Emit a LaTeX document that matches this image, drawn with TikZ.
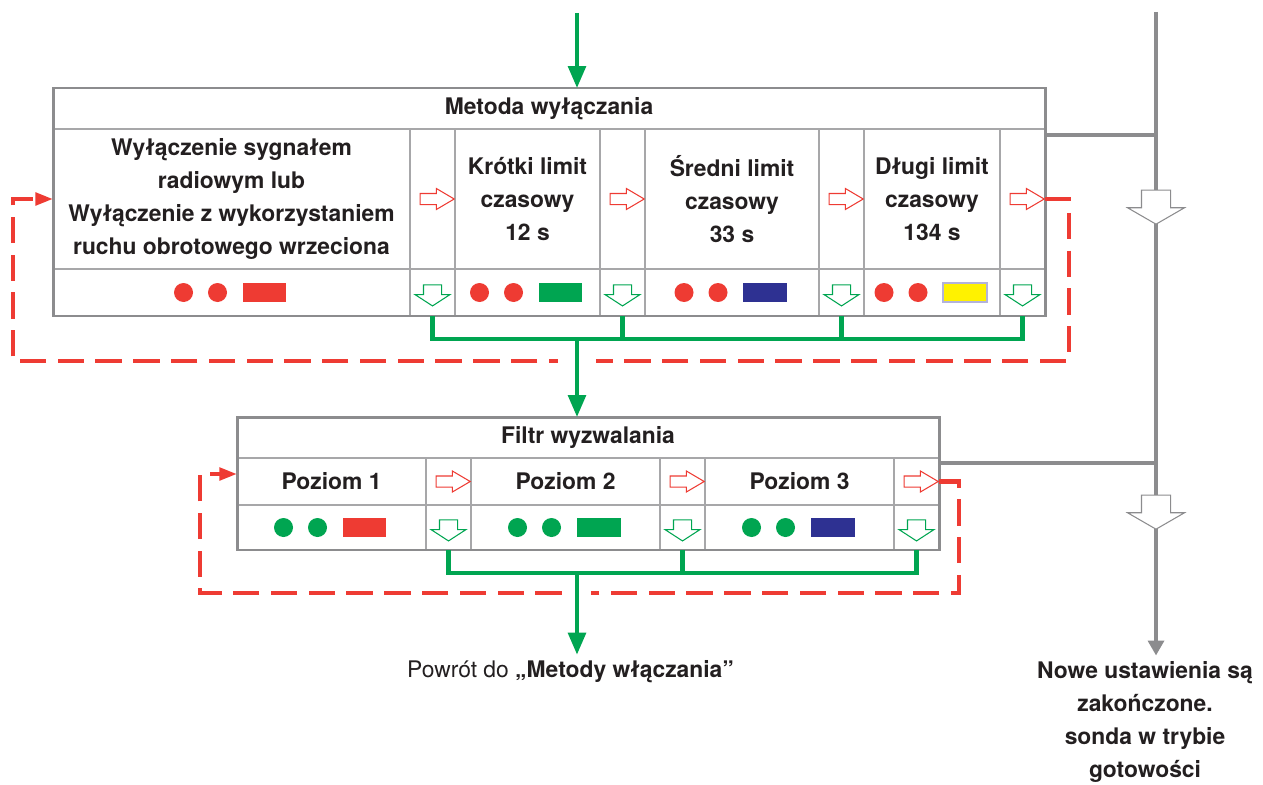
\documentclass[tikz,border=0pt]{standalone}
\usepackage{fontspec}
\setmainfont{TeX Gyre Heros}
\usetikzlibrary{arrows.meta, shapes.arrows, calc}
\definecolor{ink}{HTML}{231F20}
\definecolor{lred}{HTML}{EE3B33}
\definecolor{lgreen}{HTML}{00A551}
\definecolor{lblue}{HTML}{2E3192}
\definecolor{lyellow}{HTML}{FFF200}
\definecolor{framegray}{HTML}{8C8C8E}
\definecolor{cellgray}{HTML}{A7A7A9}
\definecolor{lilac}{HTML}{B3B3DB}

\begin{document}
\begin{tikzpicture}[x=0.02cm, y=-0.02cm,
    cell/.style={draw=cellgray, line width=1.1pt, inner sep=0pt, outer sep=0pt,
                 align=center, text=ink, font=\fontsize{13}{18.7}\selectfont\bfseries},
    titlerow/.style={cell, minimum height=0.82cm},
    textrow/.style={cell, minimum height=2.8cm},
    lamprow/.style={cell, minimum height=0.94cm},
    slim/.style={minimum width=0.9cm},
    boxframe/.style={draw=framegray, line width=1.7pt},
    dot/.style={circle, fill=#1, minimum size=0.38cm, inner sep=0pt},
    lamp/.style={fill=#1, minimum width=0.88cm, minimum height=0.38cm,
                 inner sep=0pt, line width=1.2pt},
    rarr/.style={single arrow, draw=lred, fill=white, line width=0.6pt,
                 inner xsep=0pt, inner ysep=0.1cm, minimum height=0.68cm,
                 single arrow head extend=0.1cm, single arrow tip angle=61},
    garr/.style={single arrow, draw=lgreen, fill=white, line width=0.6pt,
                 inner xsep=0pt, inner ysep=0.17cm, minimum height=0.42cm, rotate=-90,
                 single arrow head extend=0.17cm, single arrow tip angle=114},
    harr/.style={single arrow, draw=framegray, fill=white, line width=0.6pt,
                 inner xsep=0pt, inner ysep=0.28cm, minimum height=0.68cm, rotate=-90,
                 single arrow head extend=0.28cm, single arrow tip angle=120},
    gbus/.style={draw=lgreen, line width=2.3pt},
    gflow/.style={gbus, -{Triangle[length=12.5pt, width=10pt]}},
    gline/.style={draw=framegray, line width=2.3pt},
    grayflow/.style={gline, -{Triangle[length=8.5pt, width=9pt]}},
    rloop/.style={draw=lred, line width=2.3pt, dash pattern=on 15pt off 6.5pt,
                  -{Triangle[length=10pt, width=7pt]}},
    note/.style={text=ink, font=\fontsize{13}{18.7}\selectfont, align=center}
  ]
  \useasboundingbox (0,0) rectangle (1263,784);

  % switch-off method
  \node[titlerow, minimum width=19.84cm] (t1) at (549,108.5) {Metoda wyłączania};
  \node[textrow, minimum width=7.14cm] (c1) at (231.5,199)
    {Wyłączenie sygnałem\\radiowym lub\\Wyłączenie z wykorzystaniem\\ruchu obrotowego wrzeciona};
  \node[textrow, slim] (a1) at (432.5,199) {};
  \node[textrow, minimum width=2.9cm] (c2) at (527.5,199) {Krótki limit\\czasowy\\12 s};
  \node[textrow, slim] (a2) at (622.5,199) {};
  \node[textrow, minimum width=3.48cm] (c3) at (732,199) {Średni limit\\czasowy\\33 s};
  \node[textrow, slim] (a3) at (841.5,199) {};
  \node[textrow, minimum width=2.72cm] (c4) at (932,199) {Długi limit\\czasowy\\134 s};
  \node[textrow, slim] (a4) at (1022.5,199) {};
  \node[lamprow, minimum width=7.14cm] (c1b) at (231.5,292.5) {};
  \node[lamprow, slim] (a1b) at (432.5,292.5) {};
  \node[lamprow, minimum width=2.9cm] (c2b) at (527.5,292.5) {};
  \node[lamprow, slim] (a2b) at (622.5,292.5) {};
  \node[lamprow, minimum width=3.48cm] (c3b) at (732,292.5) {};
  \node[lamprow, slim] (a3b) at (841.5,292.5) {};
  \node[lamprow, minimum width=2.72cm] (c4b) at (932,292.5) {};
  \node[lamprow, slim] (a4b) at (1022.5,292.5) {};
  \draw[boxframe] (t1.north west) rectangle (a4b.south east);

  % trigger filter
  \node[titlerow, minimum width=14.04cm] (f0) at (588,437.5) {Filtr wyzwalania};
  \node[lamprow, minimum width=3.78cm] (p1) at (331.5,481.5) {Poziom 1};
  \node[lamprow, slim] (fa1) at (448.5,481.5) {};
  \node[lamprow, minimum width=3.78cm] (p2) at (565.5,481.5) {Poziom 2};
  \node[lamprow, slim] (fa2) at (682.5,481.5) {};
  \node[lamprow, minimum width=3.78cm] (p3) at (799.5,481.5) {Poziom 3};
  \node[lamprow, slim] (fa3) at (916.5,481.5) {};
  \node[cell, minimum height=0.9cm, minimum width=3.78cm] (p1b) at (331.5,527.5) {};
  \node[cell, minimum height=0.9cm, slim] (fa1b) at (448.5,527.5) {};
  \node[cell, minimum height=0.9cm, minimum width=3.78cm] (p2b) at (565.5,527.5) {};
  \node[cell, minimum height=0.9cm, slim] (fa2b) at (682.5,527.5) {};
  \node[cell, minimum height=0.9cm, minimum width=3.78cm] (p3b) at (799.5,527.5) {};
  \node[cell, minimum height=0.9cm, slim] (fa3b) at (916.5,527.5) {};
  \draw[boxframe] (f0.north west) rectangle (fa3b.south east);

  % lamps
  \foreach \cb/\dc/\lc/\lb in {c1b/lred/lred/none, c2b/lred/lgreen/none,
      c3b/lred/lblue/none, c4b/lred/lyellow/lilac, p1b/lgreen/lred/none,
      p2b/lgreen/lgreen/none, p3b/lgreen/lblue/none} {
    \node[dot=\dc] (\cb-d1) at ([xshift=-0.96cm]\cb.center) {};
    \node[dot=\dc] (\cb-d2) at ([xshift=-0.28cm]\cb.center) {};
    \node[lamp=\lc, draw=\lb] (\cb-l) at ([xshift=0.66cm]\cb.center) {};
  }

  % hollow arrows
  \foreach \a in {a1,a2,a3,a4,fa1,fa2,fa3}
    \node[rarr] (r\a) at (\a) {};
  \foreach \a in {a1b,a2b,a3b,a4b,fa1b,fa2b,fa3b}
    \node[garr] (g\a) at (\a) {};

  % texts below
  \node[note] (back) at (570.5,672) {Powrót do \textbf{„Metody włączania”}};
  \node[note, font=\fontsize{13}{18.7}\selectfont\bfseries] (done) at (1145,722)
    {Nowe ustawienia są\\zakończone.\\sonda w trybie\\gotowości};

  % red loops
  \coordinate (ret1) at (1069,361);
  \coordinate (ret1l) at (13,361);
  \draw[rloop] (a4.east) -| (ret1) -- (ret1l) |- (c1.west);
  \coordinate (ret2) at (959,593);
  \coordinate (ret2l) at (200,593);
  \draw[rloop] (fa3.east) -| (ret2) -- (ret2l) |- ([yshift=0.15cm]p1.west);

  % green flow
  \coordinate (src) at (577,13);
  \coordinate (bus1) at (577,339);
  \coordinate (bus2) at (577,573);
  \fill[white] ($(bus1 |- ret1)+(-19,-5)$) rectangle ($(bus1 |- ret1)+(19,5)$);
  \fill[white] ($(bus2 |- ret2)+(-14,-5)$) rectangle ($(bus2 |- ret2)+(14,5)$);
  \draw[gflow] (src) -- (src |- t1.north);
  \draw[gbus] (a1b.south) |- (a4b.south |- bus1) -- (a4b.south);
  \draw[gbus] (a2b.south) -- (a2b.south |- bus1);
  \draw[gbus] (a3b.south) -- (a3b.south |- bus1);
  \draw[gflow] (bus1) -- (bus1 |- f0.north);
  \draw[gbus] (fa1b.south) |- (fa3b.south |- bus2) -- (fa3b.south);
  \draw[gbus] (fa2b.south) -- (fa2b.south |- bus2);
  \draw[gflow] (bus2) -- (bus2 |- back.north);

  % gray side line
  \coordinate (gtop) at (1156,12);
  \coordinate (gj1) at (1156,135);
  \coordinate (gj2) at (1156,463);
  \draw[grayflow] (gtop) -- (gtop |- done.north);
  \draw[gline] (a4.east |- gj1) -- (gj1);
  \draw[gline] (fa3.east |- gj2) -- (gj2);
  \node[harr] (h1) at (1156,203) {};
  \node[harr] (h2) at (1156,508) {};
\end{tikzpicture}
\end{document}
